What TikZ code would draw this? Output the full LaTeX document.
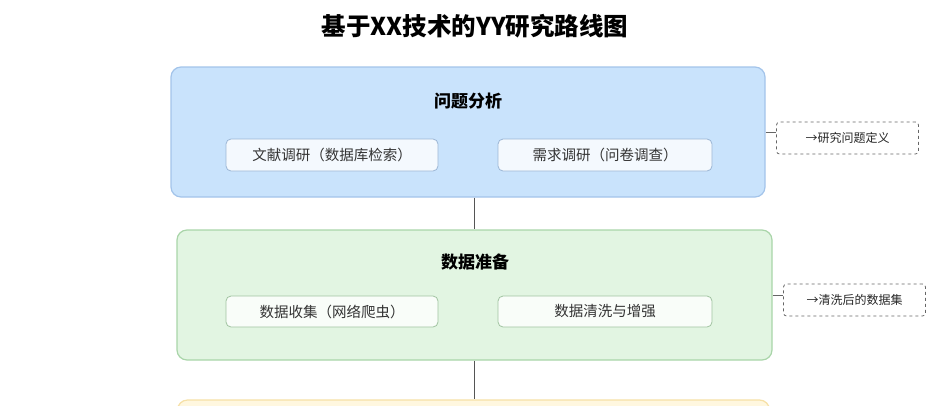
\documentclass[tikz,border=0pt]{standalone}
\usepackage{fontspec}
\setmainfont{Noto Sans CJK SC}
\usepackage{tikz}
\usetikzlibrary{positioning}
\usepackage{xcolor}

\definecolor{blueFill}{HTML}{C9E3FC}
\definecolor{blueLine}{HTML}{A3C4EA}
\definecolor{greenFill}{HTML}{E2F5E2}
\definecolor{greenLine}{HTML}{A9D5A9}
\definecolor{yellowFill}{HTML}{FFF7DF}
\definecolor{yellowLine}{HTML}{F6E0A6}
\definecolor{linkGray}{HTML}{555555}

\tikzset{
    stage/.style={draw, line width=1.2pt, rounded corners=10pt, minimum height=130pt},
    subbox/.style={draw=#1, line width=0.8pt, fill=white, fill opacity=0.8, text opacity=1, rounded corners=5pt,
        minimum height=32pt, font=\fontsize{14.5}{16}\selectfont, text=black!80},
    heading/.style={font=\fontsize{17}{20}\selectfont\bfseries},
    notebox/.style={draw=black!60, dashed, line width=0.8pt, rounded corners=3pt, minimum width=142pt,
        minimum height=32pt, font=\fontsize{12}{14}\selectfont, text=black!85},
    link/.style={draw=linkGray, line width=1.5pt}
}

\begin{document}
\begin{tikzpicture}[x=1pt, y=-1pt]
    \useasboundingbox (0,0) rectangle (950,405);
    \clip (0,0) rectangle (950,405);

    % Title
    \node[font=\fontsize{24.5}{28}\selectfont\bfseries] (title) at (475,26) {基于XX技术的YY研究路线图};

    % Stage boxes
    \node[stage, draw=blueLine, fill=blueFill, minimum width=594pt] (analysis) at (468,132) {};
    \node[stage, draw=greenLine, fill=greenFill, minimum width=595pt] (data) at (474.5,295) {};
    \node[stage, draw=yellowLine, fill=yellowFill, minimum width=592pt] (next) at (473.5,465) {};

    % Stage headings
    \node[heading] (analysisT) at (468,101) {问题分析};
    \node[heading] (dataT) at (475,262) {数据准备};

    % Sub steps
    \node[subbox=blueLine!80!gray, minimum width=212pt] (survey) at (332,155) {文献调研（数据库检索）};
    \node[subbox=blueLine!80!gray, minimum width=214pt] (needs) at (605,155) {需求调研（问卷调查）};
    \node[subbox=greenLine!80!gray, minimum width=212pt, minimum height=31pt] (collect) at (332,311.5) {数据收集（网络爬虫）};
    \node[subbox=greenLine!80!gray, minimum width=214pt, minimum height=31pt] (clean) at (605,311.5) {数据清洗与增强};

    % Outputs
    \node[notebox] (out1) at (847.5,138) {→研究问题定义};
    \node[notebox] (out2) at (854.5,300) {→清洗后的数据集};

    % Links
    \draw[link] (data.north |- analysis.south) -- (data.north);
    \draw[link] (data.south) -- (next.north -| data.south);
    \draw[draw=black!60, line width=0.8pt] (analysis.east) -- (analysis.east -| out1.west);
    \draw[draw=black!60, line width=0.8pt] (data.east) -- (data.east -| out2.west);
\end{tikzpicture}
\end{document}
